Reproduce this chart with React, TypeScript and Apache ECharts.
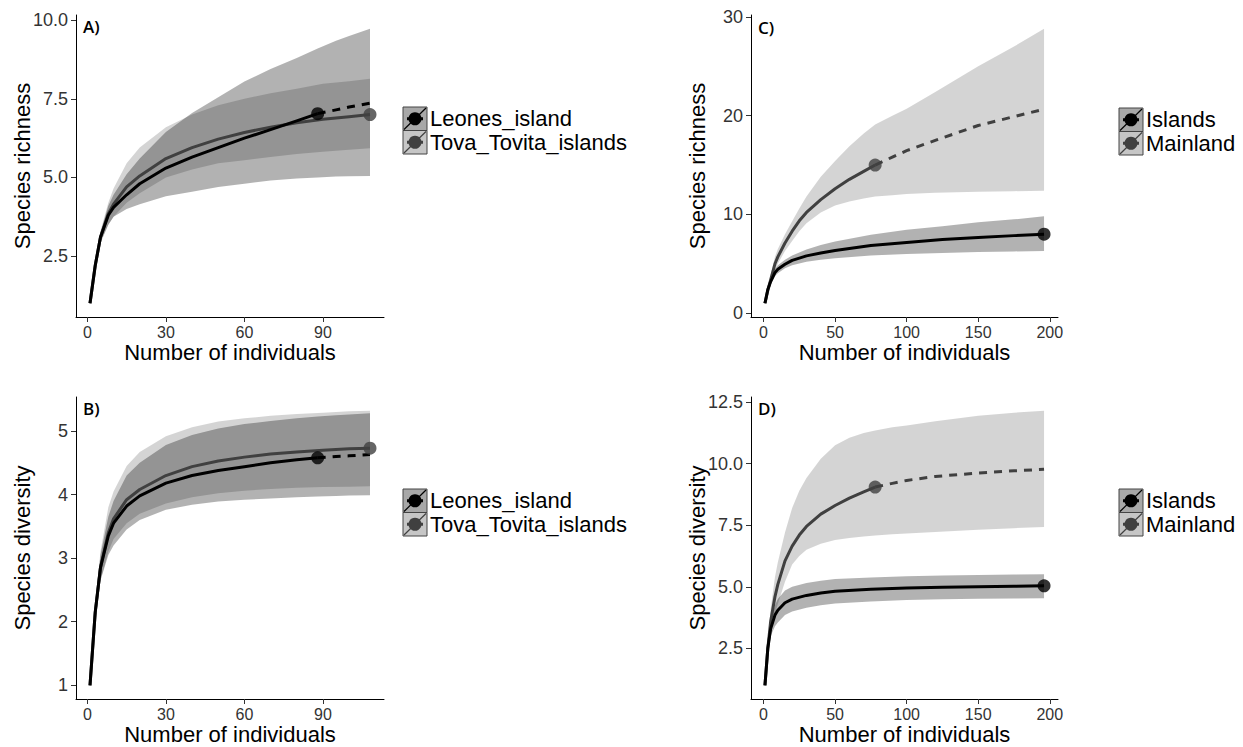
import React, { useEffect, useRef } from "react";
import * as echarts from "echarts";

// ---------- Panel A: species richness, Leones vs Tova_Tovita ----------
const aLeonesX = [1, 3, 5, 8, 10, 15, 20, 30, 40, 50, 60, 70, 80, 88];
const aLeonesY = [1, 2.2, 3.1, 3.8, 4.05, 4.45, 4.8, 5.3, 5.65, 5.95, 6.25, 6.52, 6.8, 7.03];
const aLeonesExtX = [88, 95, 100, 108];
const aLeonesExtY = [7.03, 7.15, 7.24, 7.36];
const aLeonesBandX = [1, 3, 5, 8, 10, 15, 20, 30, 40, 50, 60, 70, 80, 88, 95, 100, 108];
const aLeonesLo = [1, 2.1, 2.95, 3.5, 3.75, 4.0, 4.15, 4.4, 4.55, 4.7, 4.8, 4.9, 4.97, 5.0, 5.03, 5.04, 5.05];
const aLeonesHi = [1, 2.3, 3.25, 4.1, 4.45, 5.1, 5.6, 6.45, 7.05, 7.55, 8.05, 8.45, 8.8, 9.1, 9.35, 9.5, 9.73];
const aTovaX = [1, 3, 5, 8, 10, 15, 20, 30, 40, 50, 60, 70, 80, 90, 100, 108];
const aTovaY = [1, 2.2, 3.1, 3.85, 4.15, 4.7, 5.05, 5.6, 5.95, 6.22, 6.43, 6.6, 6.74, 6.85, 6.93, 7.0];
const aTovaLo = [1, 2.05, 2.9, 3.5, 3.75, 4.2, 4.5, 5.0, 5.25, 5.45, 5.55, 5.65, 5.75, 5.82, 5.88, 5.93];
const aTovaHi = [1, 2.35, 3.3, 4.2, 4.65, 5.45, 5.95, 6.6, 7.0, 7.3, 7.5, 7.68, 7.82, 7.98, 8.06, 8.14];

// ---------- Panel B: species diversity, Leones vs Tova_Tovita ----------
const bLeonesX = [1, 3, 5, 8, 10, 15, 20, 30, 40, 50, 60, 70, 80, 88];
const bLeonesY = [1, 2.15, 2.85, 3.35, 3.55, 3.82, 3.98, 4.18, 4.3, 4.38, 4.44, 4.5, 4.55, 4.58];
const bLeonesExtX = [88, 95, 100, 108];
const bLeonesExtY = [4.58, 4.6, 4.61, 4.63];
const bLeonesBandX = [1, 3, 5, 8, 10, 15, 20, 30, 40, 50, 60, 70, 80, 88, 95, 100, 108];
const bLeonesLo = [1, 2.0, 2.65, 3.05, 3.2, 3.45, 3.6, 3.76, 3.84, 3.89, 3.92, 3.94, 3.96, 3.97, 3.98, 3.985, 3.99];
const bLeonesHi = [1, 2.3, 3.05, 3.65, 3.9, 4.3, 4.5, 4.78, 4.94, 5.04, 5.11, 5.16, 5.2, 5.23, 5.25, 5.26, 5.28];
const bTovaX = [1, 3, 5, 8, 10, 15, 20, 30, 40, 50, 60, 70, 80, 90, 100, 108];
const bTovaY = [1, 2.15, 2.85, 3.4, 3.62, 3.92, 4.08, 4.3, 4.44, 4.53, 4.59, 4.64, 4.67, 4.7, 4.72, 4.73];
const bTovaLo = [1, 2.0, 2.65, 3.1, 3.3, 3.55, 3.7, 3.86, 3.96, 4.02, 4.06, 4.09, 4.11, 4.12, 4.125, 4.13];
const bTovaHi = [1, 2.3, 3.1, 3.8, 4.05, 4.45, 4.67, 4.92, 5.06, 5.15, 5.2, 5.24, 5.27, 5.29, 5.31, 5.32];

// ---------- Panel C: species richness, Islands vs Mainland ----------
const cIslandsX = [1, 3, 5, 8, 10, 15, 20, 30, 40, 50, 75, 100, 125, 150, 175, 196];
const cIslandsY = [1, 2.4, 3.2, 4.1, 4.45, 4.95, 5.35, 5.8, 6.1, 6.35, 6.85, 7.15, 7.45, 7.65, 7.85, 8.0];
const cIslandsLo = [1, 2.2, 2.95, 3.75, 4.05, 4.55, 4.85, 5.2, 5.4, 5.55, 5.85, 6.0, 6.1, 6.18, 6.25, 6.3];
const cIslandsHi = [1, 2.6, 3.45, 4.45, 4.85, 5.4, 5.85, 6.45, 6.9, 7.25, 7.95, 8.45, 8.8, 9.2, 9.5, 9.8];
const cMainX = [1, 3, 5, 8, 10, 15, 20, 25, 30, 40, 50, 60, 70, 78];
const cMainY = [1, 2.3, 3.4, 5.0, 5.7, 7.1, 8.3, 9.35, 10.2, 11.5, 12.6, 13.55, 14.35, 15.0];
const cMainExtX = [78, 90, 100, 120, 150, 175, 196];
const cMainExtY = [15.0, 15.8, 16.45, 17.5, 19.0, 19.9, 20.65];
const cMainBandX = [1, 3, 5, 8, 10, 15, 20, 25, 30, 40, 50, 60, 70, 78, 90, 100, 120, 150, 175, 196];
const cMainLo = [1, 2.1, 3.0, 4.3, 5.0, 6.3, 7.3, 8.3, 9.1, 10.2, 10.9, 11.3, 11.6, 11.8, 11.95, 12.06, 12.2, 12.3, 12.35, 12.4];
const cMainHi = [1, 2.6, 3.9, 5.7, 6.5, 8.0, 9.3, 10.6, 11.8, 13.8, 15.4, 16.9, 18.2, 19.1, 20.0, 20.7, 22.4, 25.0, 27.0, 28.8];

// ---------- Panel D: species diversity, Islands vs Mainland ----------
const dIslandsX = [1, 3, 5, 8, 10, 15, 20, 30, 40, 50, 75, 100, 125, 150, 175, 196];
const dIslandsY = [1, 2.5, 3.3, 3.85, 4.05, 4.35, 4.5, 4.65, 4.75, 4.82, 4.9, 4.95, 4.98, 5.0, 5.02, 5.04];
const dIslandsLo = [1, 2.3, 3.0, 3.4, 3.55, 3.85, 4.0, 4.15, 4.25, 4.32, 4.4, 4.46, 4.49, 4.51, 4.52, 4.53];
const dIslandsHi = [1, 2.7, 3.6, 4.25, 4.5, 4.85, 5.0, 5.15, 5.25, 5.32, 5.38, 5.43, 5.46, 5.48, 5.5, 5.51];
const dMainX = [1, 3, 5, 8, 10, 15, 20, 25, 30, 40, 50, 60, 70, 78];
const dMainY = [1, 2.5, 3.6, 4.6, 5.1, 6.05, 6.65, 7.1, 7.45, 7.95, 8.3, 8.6, 8.85, 9.05];
const dMainExtX = [78, 90, 100, 120, 150, 175, 196];
const dMainExtY = [9.05, 9.2, 9.32, 9.48, 9.62, 9.71, 9.77];
const dMainBandX = [1, 3, 5, 8, 10, 15, 20, 25, 30, 40, 50, 60, 70, 78, 90, 100, 120, 150, 175, 196];
const dMainLo = [1, 2.2, 3.1, 3.9, 4.3, 5.2, 5.9, 6.25, 6.5, 6.75, 6.9, 6.98, 7.04, 7.08, 7.13, 7.16, 7.22, 7.32, 7.38, 7.43];
const dMainHi = [1, 2.8, 4.1, 5.4, 6.0, 7.2, 8.2, 8.9, 9.42, 10.2, 10.75, 11.05, 11.25, 11.35, 11.48, 11.55, 11.72, 11.95, 12.07, 12.15];

// ---------- tick labels ----------
const aXTicks = [0, 30, 60, 90];
const aYTicks = [2.5, 5.0, 7.5, 10.0];
const bYTicks = [1, 2, 3, 4, 5];
const cXTicks = [0, 50, 100, 150, 200];
const cYTicks = [0, 10, 20, 30];
const dYTicks = [2.5, 5.0, 7.5, 10.0, 12.5];

const groupsLeft = ["Leones_island", "Tova_Tovita_islands"];
const groupsRight = ["Islands", "Mainland"];
const panelLabels = ["A)", "B)", "C)", "D)"];
const xTitle = "Number of individuals";
const yTitles = ["Species richness", "Species diversity", "Species richness", "Species diversity"];

const FONT = "'Liberation Sans', Arial, Helvetica, sans-serif";
const LETTER_FONT = "'Open Sans', 'Liberation Sans', sans-serif";
const C_BLACK = "#000000";
const C_GRAY = "#404040";
const FILL_BLACK = "rgba(0,0,0,0.30)";
const FILL_GRAY = "rgba(0,0,0,0.17)";

const expand = (lo: number, hi: number): [number, number] => {
  const d = (hi - lo) * 0.05;
  return [lo - d, hi + d];
};

const zip = (xs: number[], ys: number[]) => xs.map((x, i) => [x, ys[i]]);

function bandSeries(ai: number, xs: number[], lo: number[], hi: number[], fill: string) {
  return {
    type: "custom",
    xAxisIndex: ai,
    yAxisIndex: ai,
    silent: true,
    z: 1,
    clip: true,
    data: xs.map((x, i) => [x, lo[i], hi[i]]),
    encode: { x: 0, y: [1, 2] },
    renderItem: (params: any, api: any) => {
      if (params.dataIndexInside !== 0) return null;
      const pts: number[][] = [];
      for (let i = 0; i < xs.length; i++) pts.push(api.coord([xs[i], hi[i]]));
      for (let i = xs.length - 1; i >= 0; i--) pts.push(api.coord([xs[i], lo[i]]));
      return { type: "polygon", shape: { points: pts, smooth: 0 }, style: { fill, stroke: "none" } };
    },
  };
}

function lineSeries(ai: number, xs: number[], ys: number[], color: string, dashed: boolean) {
  return {
    type: "line",
    xAxisIndex: ai,
    yAxisIndex: ai,
    silent: true,
    z: 2,
    data: zip(xs, ys),
    showSymbol: false,
    smooth: false,
    lineStyle: { color, width: 3, type: dashed ? [8, 7] : "solid", cap: "butt", join: "round" },
  };
}

function pointSeries(ai: number, x: number, y: number, color: string) {
  return {
    type: "scatter",
    xAxisIndex: ai,
    yAxisIndex: ai,
    silent: true,
    z: 3,
    symbolSize: 13,
    data: [[x, y]],
    itemStyle: { color },
  };
}

function xAxisCfg(gi: number, range: [number, number], ticks: number[]) {
  return {
    type: "value",
    gridIndex: gi,
    min: range[0],
    max: range[1],
    axisLine: { show: true, onZero: false, lineStyle: { color: "#000", width: 1 } },
    axisTick: { show: true, length: 5, customValues: ticks, lineStyle: { color: "#333" } },
    axisLabel: { customValues: ticks, color: "#333", fontSize: 16, margin: 7, fontFamily: FONT },
    splitLine: { show: false },
  };
}

function yAxisCfg(gi: number, range: [number, number], ticks: number[], dec: number) {
  return {
    type: "value",
    gridIndex: gi,
    min: range[0],
    max: range[1],
    axisLine: { show: true, onZero: false, lineStyle: { color: "#000", width: 1 } },
    axisTick: { show: true, length: 5, customValues: ticks, lineStyle: { color: "#333" } },
    axisLabel: {
      customValues: ticks,
      color: "#333",
      fontSize: 18,
      margin: 8,
      fontFamily: FONT,
      formatter: (v: number) => v.toFixed(dec),
    },
    splitLine: { show: false },
  };
}

function legendGraphics(kx: number, ky: number, names: string[]) {
  const els: any[] = [];
  const fills = ["#a8a8a8", "#c6c6c6"];
  const cols = [C_BLACK, C_GRAY];
  const h = 23.5;
  names.forEach((n, i) => {
    const y = ky + i * h;
    els.push({
      type: "rect",
      shape: { x: kx, y, width: 24, height: h },
      style: { fill: fills[i], stroke: "#444", lineWidth: 1 },
    });
    els.push({
      type: "line",
      shape: { x1: kx + 1, y1: y + h - 1, x2: kx + 23, y2: y + 1 },
      style: { stroke: cols[i], lineWidth: 1.2 },
    });
    els.push({
      type: "line",
      shape: { x1: kx + 4, y1: y + h / 2, x2: kx + 20, y2: y + h / 2 },
      style: { stroke: cols[i], lineWidth: 3 },
    });
    els.push({
      type: "circle",
      shape: { cx: kx + 12, cy: y + h / 2, r: 6.5 },
      style: { fill: cols[i] },
    });
    els.push({
      type: "text",
      x: kx + 27,
      y: y + h / 2,
      style: {
        text: n,
        fontSize: 22,
        fontFamily: FONT,
        fill: "#000",
        textAlign: "left",
        textVerticalAlign: "middle",
      },
    });
  });
  return els;
}

function textEl(x: number, y: number, text: string, size: number, opts: any = {}) {
  return {
    type: "text",
    x,
    y,
    rotation: opts.rotation || 0,
    style: {
      text,
      fontSize: size,
      fontFamily: opts.font || FONT,
      fontWeight: opts.weight || "normal",
      fill: "#000",
      textAlign: opts.align || "center",
      textVerticalAlign: "middle",
    },
  };
}

export default function App() {
  const ref = useRef<HTMLDivElement>(null);

  useEffect(() => {
    if (!ref.current) return;
    const chart = echarts.init(ref.current, undefined, { renderer: "svg" });

    const ax = expand(1, 108);
    const ay = expand(1, Math.max(...aLeonesHi, ...aTovaHi));
    const by = expand(1, Math.max(...bLeonesHi, ...bTovaHi));
    const cx = expand(1, 196);
    const cy = expand(1, Math.max(...cIslandsHi, ...cMainHi));
    const dy = expand(1, Math.max(...dIslandsHi, ...dMainHi));

    const grids = [
      { left: 76, top: 15, width: 308, height: 302 },
      { left: 76, top: 397, width: 308, height: 302 },
      { left: 751, top: 15, width: 307, height: 302 },
      { left: 751, top: 397, width: 307, height: 302 },
    ];

    const letter = { align: "left", weight: 600, font: LETTER_FONT };
    const graphic: any[] = [];
    // panel letters
    graphic.push(textEl(83, 26, panelLabels[0], 17, letter));
    graphic.push(textEl(83, 408, panelLabels[1], 17, letter));
    graphic.push(textEl(758, 27, panelLabels[2], 17, letter));
    graphic.push(textEl(758, 408, panelLabels[3], 17, letter));
    // x titles
    graphic.push(textEl(230, 352, xTitle, 22));
    graphic.push(textEl(230, 734, xTitle, 22));
    graphic.push(textEl(904.5, 352, xTitle, 22));
    graphic.push(textEl(904.5, 734, xTitle, 22));
    // y titles
    graphic.push(textEl(22, 166, yTitles[0], 22, { rotation: Math.PI / 2 }));
    graphic.push(textEl(22, 548, yTitles[1], 22, { rotation: Math.PI / 2 }));
    graphic.push(textEl(697, 166, yTitles[2], 22, { rotation: Math.PI / 2 }));
    graphic.push(textEl(697, 548, yTitles[3], 22, { rotation: Math.PI / 2 }));
    // legends
    graphic.push(...legendGraphics(403, 107, groupsLeft));
    graphic.push(...legendGraphics(403, 489, groupsLeft));
    graphic.push(...legendGraphics(1119, 108, groupsRight));
    graphic.push(...legendGraphics(1119, 489, groupsRight));

    const series: any[] = [
      // A
      bandSeries(0, aLeonesBandX, aLeonesLo, aLeonesHi, FILL_BLACK),
      bandSeries(0, aTovaX, aTovaLo, aTovaHi, FILL_GRAY),
      lineSeries(0, aTovaX, aTovaY, C_GRAY, false),
      lineSeries(0, aLeonesX, aLeonesY, C_BLACK, false),
      lineSeries(0, aLeonesExtX, aLeonesExtY, C_BLACK, true),
      pointSeries(0, aTovaX[aTovaX.length - 1], aTovaY[aTovaY.length - 1], C_GRAY),
      pointSeries(0, aLeonesX[aLeonesX.length - 1], aLeonesY[aLeonesY.length - 1], C_BLACK),
      // B
      bandSeries(1, bLeonesBandX, bLeonesLo, bLeonesHi, FILL_BLACK),
      bandSeries(1, bTovaX, bTovaLo, bTovaHi, FILL_GRAY),
      lineSeries(1, bTovaX, bTovaY, C_GRAY, false),
      lineSeries(1, bLeonesX, bLeonesY, C_BLACK, false),
      lineSeries(1, bLeonesExtX, bLeonesExtY, C_BLACK, true),
      pointSeries(1, bTovaX[bTovaX.length - 1], bTovaY[bTovaY.length - 1], C_GRAY),
      pointSeries(1, bLeonesX[bLeonesX.length - 1], bLeonesY[bLeonesY.length - 1], C_BLACK),
      // C
      bandSeries(2, cIslandsX, cIslandsLo, cIslandsHi, FILL_BLACK),
      bandSeries(2, cMainBandX, cMainLo, cMainHi, FILL_GRAY),
      lineSeries(2, cMainX, cMainY, C_GRAY, false),
      lineSeries(2, cMainExtX, cMainExtY, C_GRAY, true),
      lineSeries(2, cIslandsX, cIslandsY, C_BLACK, false),
      pointSeries(2, cMainX[cMainX.length - 1], cMainY[cMainY.length - 1], C_GRAY),
      pointSeries(2, cIslandsX[cIslandsX.length - 1], cIslandsY[cIslandsY.length - 1], C_BLACK),
      // D
      bandSeries(3, dIslandsX, dIslandsLo, dIslandsHi, FILL_BLACK),
      bandSeries(3, dMainBandX, dMainLo, dMainHi, FILL_GRAY),
      lineSeries(3, dMainX, dMainY, C_GRAY, false),
      lineSeries(3, dMainExtX, dMainExtY, C_GRAY, true),
      lineSeries(3, dIslandsX, dIslandsY, C_BLACK, false),
      pointSeries(3, dMainX[dMainX.length - 1], dMainY[dMainY.length - 1], C_GRAY),
      pointSeries(3, dIslandsX[dIslandsX.length - 1], dIslandsY[dIslandsY.length - 1], C_BLACK),
    ];

    chart.setOption({
      animation: false,
      backgroundColor: "#ffffff",
      textStyle: { fontFamily: FONT },
      grid: grids,
      xAxis: [
        xAxisCfg(0, ax, aXTicks),
        xAxisCfg(1, ax, aXTicks),
        xAxisCfg(2, cx, cXTicks),
        xAxisCfg(3, cx, cXTicks),
      ],
      yAxis: [
        yAxisCfg(0, ay, aYTicks, 1),
        yAxisCfg(1, by, bYTicks, 0),
        yAxisCfg(2, cy, cYTicks, 0),
        yAxisCfg(3, dy, dYTicks, 1),
      ],
      graphic,
      series,
    });

    return () => chart.dispose();
  }, []);

  return (
    <div
      ref={ref}
      style={{ position: "fixed", left: 0, top: 0, width: 1243, height: 747, background: "#fff" }}
    />
  );
}
